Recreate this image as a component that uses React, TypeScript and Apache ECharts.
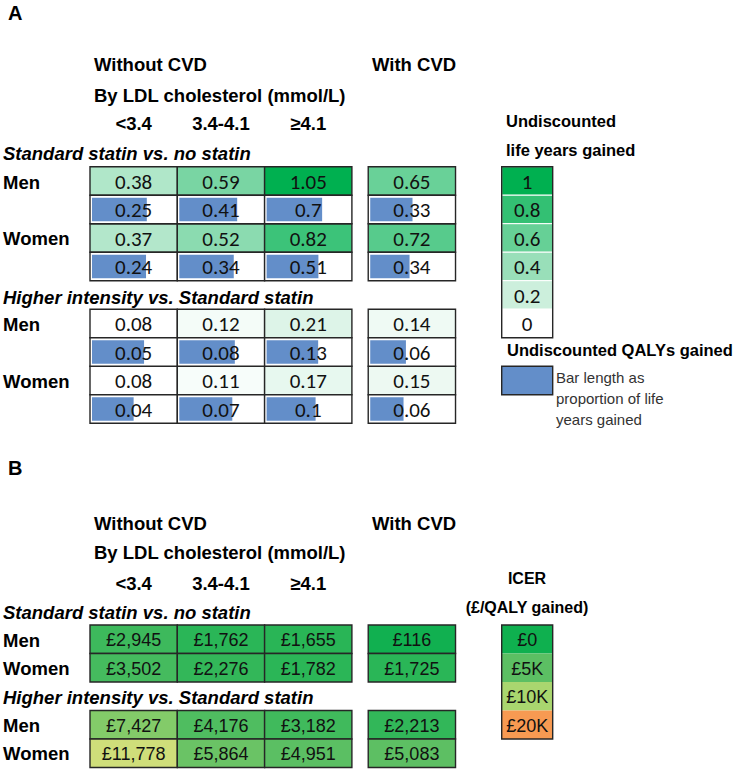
import React, { useEffect, useRef } from 'react';
import * as echarts from 'echarts';

// ---------- data ----------
const ldlCategories = ['<3.4', '3.4-4.1', '≥4.1'];
// order: <3.4, 3.4-4.1, ≥4.1, with CVD
const lyStandardMen = [0.38, 0.59, 1.05, 0.65];
const qalyStandardMen = [0.25, 0.41, 0.7, 0.33];
const lyStandardWomen = [0.37, 0.52, 0.82, 0.72];
const qalyStandardWomen = [0.24, 0.34, 0.51, 0.34];
const lyHigherMen = [0.08, 0.12, 0.21, 0.14];
const qalyHigherMen = [0.05, 0.08, 0.13, 0.06];
const lyHigherWomen = [0.08, 0.11, 0.17, 0.15];
const qalyHigherWomen = [0.04, 0.07, 0.1, 0.06];

const icerStandardMen = [2945, 1762, 1655, 116];
const icerStandardWomen = [3502, 2276, 1782, 1725];
const icerHigherMen = [7427, 4176, 3182, 2213];
const icerHigherWomen = [11778, 5864, 4951, 5083];

const lyLegendValues = [1, 0.8, 0.6, 0.4, 0.2, 0];
const icerLegendValues = [0, 5000, 10000, 20000];
const icerLegendLabels = ['£0', '£5K', '£10K', '£20K'];

// ---------- layout ----------
const colStarts = [0, 1, 2, 3.187];
const legendX = 4.716;
const legendW = 0.584;
const COLW = 87.3;
const ROWH = 28.5;
const GRID_LEFT = 90;
const XMAX = 5.3;

const HEAD = '"Liberation Sans", Arial, sans-serif';
const CELL_A = 'Carlito, Calibri, Lato, sans-serif';
const CELL_A_SIZE = 21;
const BORDER = '#262626';

const allLy = [...lyStandardMen, ...lyStandardWomen, ...lyHigherMen, ...lyHigherWomen];
const lyMin = Math.min(...allLy);
const lyMax = Math.max(...allLy);

const lyCells = (vals: number[], row: number) => vals.map((v, i) => [colStarts[i], row, v]);
const qalyCells = (q: number[], ly: number[], row: number) => q.map((v, i) => [colStarts[i], row, v, ly[i]]);
const icerCells = (vals: number[], row: number) => vals.map((v, i) => [colStarts[i], row, v]);

const fmtIcer = (v: number) => '£' + v.toLocaleString('en-GB');

function txt(text: string, x: number, y: number, o: any = {}) {
  return {
    type: 'text',
    x,
    y,
    silent: true,
    style: {
      text,
      fontFamily: o.family || HEAD,
      fontSize: o.size || 18.5,
      fontWeight: o.weight || 'bold',
      fontStyle: o.italic ? 'italic' : 'normal',
      fill: o.color || '#000',
      textAlign: o.align || 'left',
      align: o.align || 'left',
      textVerticalAlign: 'middle',
      verticalAlign: 'middle',
    },
  };
}

function rectOf(api: any, x0: number, r: number, w: number, h: number) {
  const p0 = api.coord([x0, r]);
  const p1 = api.coord([x0 + w, r + h]);
  return { x: p0[0], y: p0[1], width: p1[0] - p0[0], height: p1[1] - p0[1] };
}

function cellText(text: string, s: any, fontFamily: string, fontSize: number) {
  return {
    type: 'text',
    style: {
      text, x: s.x + s.width / 2, y: s.y + s.height / 2 + 1,
      align: 'center', verticalAlign: 'middle', textAlign: 'center', textVerticalAlign: 'middle',
      fontFamily, fontSize, fill: '#111',
    },
  };
}

export default function App() {
  const ref = useRef<HTMLDivElement>(null);
  useEffect(() => {
    document.body.style.margin = '0';
    const chart = echarts.init(ref.current!, undefined, { renderer: 'svg' });

    const columnHeaders = (y: number) =>
      ldlCategories.map((c, i) => txt(c, GRID_LEFT + (colStarts[i] + 0.5) * COLW, y, { align: 'center' }));

    const option: any = {
      animation: false,
      grid: [
        { left: GRID_LEFT, top: 166.7, width: XMAX * COLW, height: 9 * ROWH },
        { left: GRID_LEFT, top: 625, width: XMAX * COLW, height: 5 * ROWH },
      ],
      xAxis: [
        { type: 'value', gridIndex: 0, min: 0, max: XMAX, show: false },
        { type: 'value', gridIndex: 1, min: 0, max: XMAX, show: false },
      ],
      yAxis: [
        { type: 'value', gridIndex: 0, min: 0, max: 9, inverse: true, show: false },
        { type: 'value', gridIndex: 1, min: 0, max: 5, inverse: true, show: false },
      ],
      visualMap: [
        {
          type: 'continuous', show: false, seriesIndex: 0, dimension: 2, min: lyMin, max: lyMax,
          inRange: { color: ['#ffffff', '#00b050'] },
        },
        {
          type: 'continuous', show: false, seriesIndex: 2, dimension: 2, min: 0, max: 1,
          inRange: { color: ['#ffffff', '#00b050'] },
        },
        {
          type: 'continuous', show: false, seriesIndex: [5, 6], dimension: 2, min: 0, max: 20000,
          inRange: {
            color: ['#0fb04f', '#36b85a', '#5cbf63', '#84cb69', '#a9d66f', '#dfe17e', '#f0c870', '#f4b060', '#f79a52'],
          },
        },
      ],
      series: [
        {
          type: 'custom', name: 'Life years gained', xAxisIndex: 0, yAxisIndex: 0,
          renderItem: (params: any, api: any) => {
            const s = rectOf(api, api.value(0), api.value(1), 1, 1);
            return {
              type: 'group',
              children: [
                { type: 'rect', shape: s, style: { fill: api.visual('color'), stroke: BORDER, lineWidth: 1.4 } },
                cellText(String(api.value(2)), s, CELL_A, CELL_A_SIZE),
              ],
            };
          },
          data: [
            ...lyCells(lyStandardMen, 0), ...lyCells(lyStandardWomen, 2),
            ...lyCells(lyHigherMen, 5), ...lyCells(lyHigherWomen, 7),
          ],
        },
        {
          type: 'custom', name: 'QALYs gained', xAxisIndex: 0, yAxisIndex: 0,
          renderItem: (params: any, api: any) => {
            const q = api.value(2);
            const ly = api.value(3);
            const s = rectOf(api, api.value(0), api.value(1), 1, 1);
            const bw = (s.width - 4) * (q / ly);
            return {
              type: 'group',
              children: [
                { type: 'rect', shape: s, style: { fill: '#ffffff', stroke: BORDER, lineWidth: 1.4 } },
                { type: 'rect', shape: { x: s.x + 2, y: s.y + 2.5, width: bw, height: s.height - 5 }, style: { fill: '#638ec9' } },
                cellText(String(q), s, CELL_A, CELL_A_SIZE),
              ],
            };
          },
          data: [
            ...qalyCells(qalyStandardMen, lyStandardMen, 1), ...qalyCells(qalyStandardWomen, lyStandardWomen, 3),
            ...qalyCells(qalyHigherMen, lyHigherMen, 6), ...qalyCells(qalyHigherWomen, lyHigherWomen, 8),
          ],
        },
        {
          type: 'custom', name: 'LY legend', xAxisIndex: 0, yAxisIndex: 0,
          renderItem: (params: any, api: any) => {
            const s = rectOf(api, api.value(0), api.value(1), legendW, 1);
            return {
              type: 'group',
              children: [
                { type: 'rect', shape: s, style: { fill: api.visual('color'), stroke: '#ffffff', lineWidth: 1 } },
                cellText(String(api.value(2)), s, CELL_A, CELL_A_SIZE),
              ],
            };
          },
          data: lyLegendValues.map((v, i) => [legendX, i, v]),
        },
        {
          type: 'custom', name: 'LY legend frame', xAxisIndex: 0, yAxisIndex: 0,
          renderItem: (params: any, api: any) => ({
            type: 'rect',
            shape: rectOf(api, api.value(0), api.value(1), legendW, api.value(2)),
            style: { fill: 'none', stroke: BORDER, lineWidth: 1.4 },
          }),
          data: [[legendX, 0, lyLegendValues.length]],
        },
        {
          type: 'custom', name: 'QALY legend swatch', xAxisIndex: 0, yAxisIndex: 0,
          renderItem: (params: any, api: any) => ({
            type: 'rect',
            shape: rectOf(api, api.value(0), api.value(1), legendW, 1),
            style: { fill: '#638ec9', stroke: BORDER, lineWidth: 1.4 },
          }),
          data: [[legendX, 7]],
        },
        {
          type: 'custom', name: 'ICER', xAxisIndex: 1, yAxisIndex: 1,
          renderItem: (params: any, api: any) => {
            const s = rectOf(api, api.value(0), api.value(1), 1, 1);
            return {
              type: 'group',
              children: [
                { type: 'rect', shape: s, style: { fill: api.visual('color'), stroke: BORDER, lineWidth: 1.4 } },
                cellText(fmtIcer(api.value(2)), s, HEAD, 18),
              ],
            };
          },
          data: [
            ...icerCells(icerStandardMen, 0), ...icerCells(icerStandardWomen, 1),
            ...icerCells(icerHigherMen, 3), ...icerCells(icerHigherWomen, 4),
          ],
        },
        {
          type: 'custom', name: 'ICER legend', xAxisIndex: 1, yAxisIndex: 1,
          renderItem: (params: any, api: any) => {
            const s = rectOf(api, api.value(0), api.value(1), legendW, 1);
            return {
              type: 'group',
              children: [
                { type: 'rect', shape: s, style: { fill: api.visual('color') } },
                cellText(icerLegendLabels[params.dataIndex], s, HEAD, 18),
              ],
            };
          },
          data: icerLegendValues.map((v, i) => [legendX, i, v]),
        },
        {
          type: 'custom', name: 'ICER legend frame', xAxisIndex: 1, yAxisIndex: 1,
          renderItem: (params: any, api: any) => ({
            type: 'rect',
            shape: rectOf(api, api.value(0), api.value(1), legendW, api.value(2)),
            style: { fill: 'none', stroke: BORDER, lineWidth: 1.4 },
          }),
          data: [[legendX, 0, icerLegendValues.length]],
        },
      ],
      graphic: [
        // Panel A
        txt('A', 8, 13, { size: 20 }),
        txt('Without CVD', 94, 64),
        txt('With CVD', 372, 64),
        txt('By LDL cholesterol (mmol/L)', 94, 95),
        ...columnHeaders(123),
        txt('Standard statin vs. no statin', 3, 153, { italic: true }),
        txt('Men', 3, 182),
        txt('Women', 3, 238),
        txt('Higher intensity vs. Standard statin', 3, 297, { italic: true }),
        txt('Men', 3, 324),
        txt('Women', 3, 381.5),
        txt('Undiscounted', 506, 121, { size: 16.5 }),
        txt('life years gained', 506, 149.5, { size: 16.5 }),
        txt('Undiscounted QALYs gained', 507, 349.5, { size: 16.5 }),
        txt('Bar length as', 556, 377, { size: 15, weight: 'normal', color: '#333' }),
        txt('proportion of life', 556, 398, { size: 15, weight: 'normal', color: '#333' }),
        txt('years gained', 556, 419, { size: 15, weight: 'normal', color: '#333' }),
        // Panel B
        txt('B', 8, 468, { size: 20 }),
        txt('Without CVD', 94, 523),
        txt('With CVD', 372, 523),
        txt('By LDL cholesterol (mmol/L)', 94, 552),
        ...columnHeaders(583),
        txt('Standard statin vs. no statin', 3, 612, { italic: true }),
        txt('Men', 3, 640),
        txt('Women', 3, 668),
        txt('Higher intensity vs. Standard statin', 3, 697, { italic: true }),
        txt('Men', 3, 725),
        txt('Women', 3, 753),
        txt('ICER', 527, 578, { size: 16, align: 'center' }),
        txt('(£/QALY gained)', 527, 607, { size: 16, align: 'center' }),
      ],
    };
    chart.setOption(option);
    return () => chart.dispose();
  }, []);
  return <div ref={ref} style={{ width: 736, height: 771 }} />;
}
